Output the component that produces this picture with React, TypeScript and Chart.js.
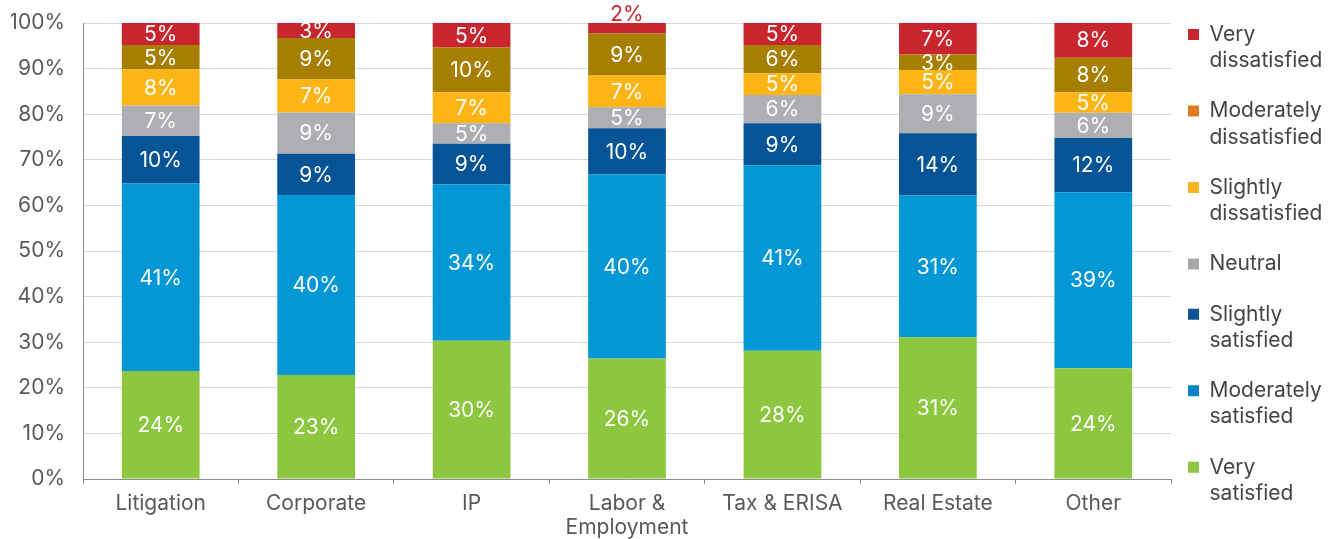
import React, { useEffect, useRef } from "react";
import { Chart, registerables } from "chart.js";

Chart.register(...registerables);

const categories: (string | string[])[] = [
  "Litigation",
  "Corporate",
  "IP",
  ["Labor &", "Employment"],
  "Tax & ERISA",
  "Real Estate",
  "Other",
];

// values in percent, bottom of stack first
const verySatisfied = [23.7, 22.8, 30.3, 26.4, 28.1, 31.1, 24.3];
const moderatelySatisfied = [41.1, 39.5, 34.3, 40.4, 40.7, 31.1, 38.6];
const slightlySatisfied = [10.4, 9.0, 8.9, 10.1, 9.2, 13.6, 11.9];
const neutral = [6.7, 9.1, 4.5, 4.6, 6.2, 8.6, 5.5];
const slightlyDissatisfied = [7.9, 7.2, 6.8, 7.0, 4.8, 5.3, 4.5];
const moderatelyDissatisfied = [5.4, 9.1, 9.8, 9.2, 6.2, 3.4, 7.6];
const veryDissatisfied = [4.8, 3.4, 5.4, 2.4, 4.8, 7.0, 7.7];

const seriesNames: string[][] = [
  ["Very", "satisfied"],
  ["Moderately", "satisfied"],
  ["Slightly", "satisfied"],
  ["Neutral"],
  ["Slightly", "dissatisfied"],
  ["Moderately", "dissatisfied"],
  ["Very", "dissatisfied"],
];
const seriesValues = [
  verySatisfied,
  moderatelySatisfied,
  slightlySatisfied,
  neutral,
  slightlyDissatisfied,
  moderatelyDissatisfied,
  veryDissatisfied,
];
const barColors = ["#8DC63F", "#0397D5", "#065495", "#AEAFB2", "#FDB515", "#A67F00", "#C8252F"];
const legendColors = ["#8DC63F", "#0A84C6", "#0F5496", "#A7A8AB", "#FBB423", "#E07A1F", "#C8252F"];

const yTicks = [0, 10, 20, 30, 40, 50, 60, 70, 80, 90, 100];

const FONT = "Inter, 'Open Sans', sans-serif";

const dataLabelPlugin = {
  id: "segmentLabels",
  afterDatasetsDraw(chart: any) {
    const ctx = chart.ctx;
    ctx.save();
    ctx.font = `21px ${FONT}`;
    ctx.textAlign = "center";
    const last = chart.data.datasets.length - 1;
    chart.data.datasets.forEach((ds: any, i: number) => {
      const meta = chart.getDatasetMeta(i);
      meta.data.forEach((bar: any, j: number) => {
        const v = ds.data[j];
        const { x, y, base } = bar.getProps(["x", "y", "base"], true);
        const label = Math.round(v) + "%";
        if (v < 3 && i === last) {
          ctx.fillStyle = barColors[i];
          ctx.textBaseline = "bottom";
          ctx.fillText(label, x, y + 3);
        } else {
          ctx.fillStyle = "#ffffff";
          ctx.textBaseline = "middle";
          ctx.fillText(label, x, (y + base) / 2 + 1);
        }
      });
    });
    ctx.restore();
  },
};

const legendShiftPlugin = {
  id: "legendShift",
  afterLayout(chart: any) {
    if (chart.legend) {
      chart.legend.left -= 7;
      chart.legend.right -= 7;
    }
  },
};

export default function App() {
  const ref = useRef<HTMLCanvasElement | null>(null);
  useEffect(() => {
    document.body.style.margin = "0";
    const canvas = ref.current;
    if (!canvas) return;
    const chart = new Chart(canvas, {
      type: "bar",
      data: {
        labels: categories as any,
        datasets: seriesValues.map((vals, i) => ({
          label: seriesNames[i].join(" "),
          data: vals,
          backgroundColor: barColors[i],
          borderWidth: 0,
          barPercentage: 0.5,
          categoryPercentage: 1,
        })),
      },
      options: {
        responsive: false,
        animation: false,
        layout: { padding: { left: 11, right: 4, top: 0, bottom: 0 } },
        plugins: {
          tooltip: { enabled: false },
          legend: {
            position: "right",
            align: "start",
            maxWidth: 168,
            labels: {
              boxWidth: 11,
              boxHeight: 11,
              padding: 24,
              color: "#454545",
              font: { family: FONT, size: 21, lineHeight: 1.25 },
              generateLabels: () =>
                seriesNames
                  .map((name, i) => ({
                    text: name as any,
                    fillStyle: legendColors[i],
                    strokeStyle: legendColors[i],
                    lineWidth: 0,
                    hidden: false,
                    datasetIndex: i,
                    fontColor: "#454545",
                  }))
                  .reverse() as any,
            },
          },
        },
        scales: {
          x: {
            stacked: true,
            afterFit: (scale: any) => {
              scale.height = 60;
            },
            grid: {
              drawOnChartArea: false,
              drawTicks: true,
              tickLength: 5,
              color: "#8c8c8c",
              offset: true,
            },
            border: { display: true, color: "#8c8c8c", width: 1 },
            ticks: {
              color: "#595959",
              padding: 8,
              font: { family: FONT, size: 21, lineHeight: 1.12 },
              maxRotation: 0,
              autoSkip: false,
            },
          },
          y: {
            stacked: true,
            min: 0,
            max: 100,
            afterBuildTicks: (scale: any) => {
              scale.ticks = yTicks.map((v) => ({ value: v }));
            },
            afterFit: (scale: any) => {
              scale.paddingTop = 23;
              scale.paddingBottom = 0;
              scale.width = 72;
            },
            grid: { color: "#d9d9d9", drawTicks: false, lineWidth: 1 },
            border: { display: true, color: "#8c8c8c", width: 1 },
            ticks: {
              color: "#595959",
              padding: 18,
              font: { family: FONT, size: 21 },
              callback: (v: any) => v + "%",
            },
          },
        },
      },
      plugins: [dataLabelPlugin, legendShiftPlugin],
    });
    return () => chart.destroy();
  }, []);
  return <canvas ref={ref} width={1343} height={539} style={{ display: "block" }} />;
}
